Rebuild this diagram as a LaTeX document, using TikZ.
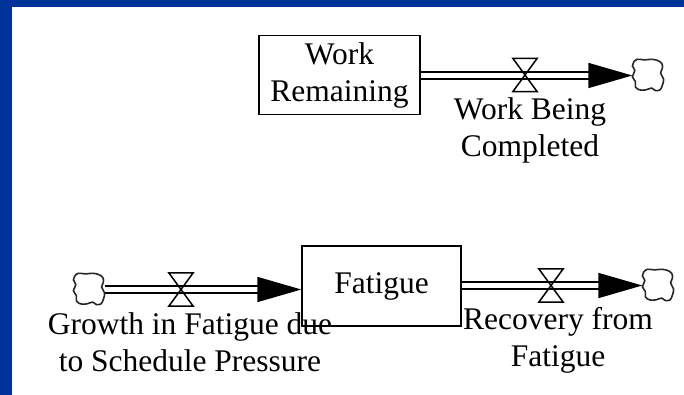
\documentclass[tikz,border=0pt]{standalone}
\usepackage{fontspec}
\setmainfont{Liberation Serif}
\usetikzlibrary{arrows.meta}
\definecolor{frameblue}{RGB}{0,51,153}
\begin{document}
\begin{tikzpicture}[x=1pt,y=-1pt,
  every node/.style={font=\fontsize{31.5}{37}\selectfont},
  stock/.style={draw, line width=1.4pt, rectangle, inner sep=0pt, align=center},
  valve/.style={rectangle, inner sep=0pt, minimum width=24pt, minimum height=33pt},
  sink/.style={rectangle, inner sep=0pt, minimum width=31pt, minimum height=32pt},
  cloudline/.style={draw=black!85, line width=1.6pt},
  pipe/.style={draw, double=white, double distance=5pt, line width=1.7pt,
               -{Triangle[length=44pt,width=25pt,fill=black]}},
  flowlabel/.style={align=center, inner sep=0pt, anchor=base},
  bowtie/.style={draw, line width=1.5pt, line join=miter}
]
\useasboundingbox (0,0) rectangle (684,395);
% frame
\fill[frameblue] (0,0) rectangle (684,7);
\fill[frameblue] (0,0) rectangle (12,395);

% Work Remaining -> sink
\node[stock, minimum width=161pt, minimum height=79pt] (wr) at (339.5,75) {Work\\Remaining};
\node[sink] (c1) at (648,75.5) {};
\node[valve] (v1) at (525,75) {};
\draw[pipe] (wr.east |- 0,75.5) -- (c1.west);
\draw[bowtie] (v1.north west) -- (v1.north east) -- (v1.south west) -- (v1.south east) -- cycle;
\node[flowlabel] (l1) at (530,157) {Work Being\\Completed};

% source -> Fatigue -> sink
\node[stock, minimum width=159pt, minimum height=80pt] (fat) at (381.5,286) {Fatigue};
\node[sink] (c2) at (89,289.5) {};
\node[valve] (v2) at (181,289.5) {};
\draw[pipe] (c2.east) -- (c2.east -| fat.west);
\draw[bowtie] (v2.north west) -- (v2.north east) -- (v2.south west) -- (v2.south east) -- cycle;
\node[flowlabel] (l2) at (190,371) {Growth in Fatigue due\\to Schedule Pressure};

\node[sink] (c3) at (658,285.5) {};
\node[valve] (v3) at (551,285.5) {};
\draw[pipe] (fat.east |- 0,285.5) -- (c3.west);
\draw[bowtie] (v3.north west) -- (v3.north east) -- (v3.south west) -- (v3.south east) -- cycle;
\node[flowlabel] (l3) at (558,366) {Recovery from\\Fatigue};

% irregular cloud outlines for the source and sinks
\foreach \c in {c1,c2,c3}
  \draw[cloudline, shift={(\c.center)}, scale=1.2]
    plot[smooth cycle, tension=0.6] coordinates {
      (-12,-11) (-9,-13.5) (-3,-13) (3,-13.5) (8,-12.5) (11.5,-10) (12,-6)
      (10.5,-2) (13,3) (12,8) (10,12) (6,12.5) (3,10.5) (-2,12) (-7,12)
      (-10.5,9.5) (-10.5,5) (-13,1) (-11,-4) (-13,-8)};
\end{tikzpicture}
\end{document}
